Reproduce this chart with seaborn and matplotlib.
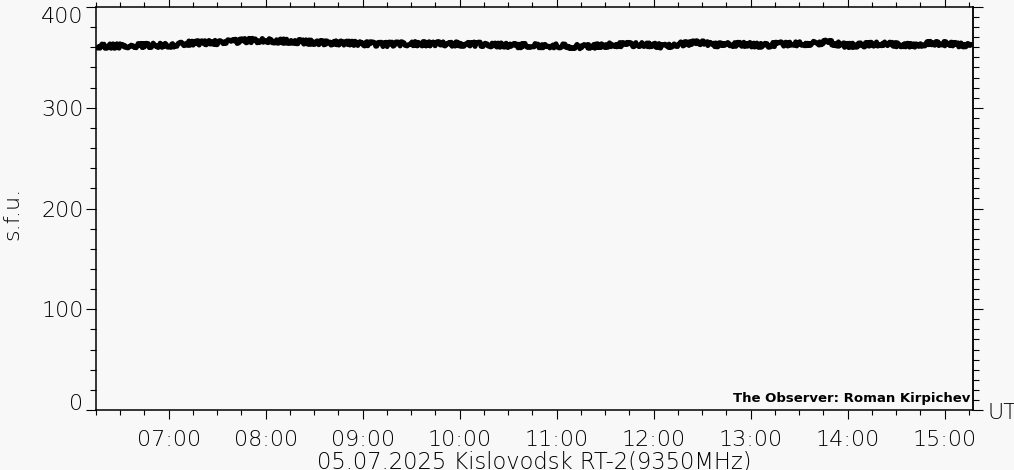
import matplotlib
matplotlib.use("Agg")
import matplotlib.pyplot as plt
from matplotlib.ticker import MultipleLocator, FixedLocator, NullFormatter
import seaborn as sns
import pandas as pd

# --- data (UT hours, flux in s.f.u.) ---
time_h = [6.25, 6.52, 6.87, 6.99, 7.21, 7.55, 7.83, 8.07, 8.25, 8.59, 8.94,
          9.21, 9.52, 9.87, 10.21, 10.55, 10.90, 11.31, 11.58, 11.93, 12.10,
          12.27, 12.48, 12.61, 12.96, 13.13, 13.30, 13.64, 13.79, 13.99,
          14.33, 14.67, 14.88, 15.23, 15.29]
flux_sfu = [361.0, 361.4, 362.0, 361.7, 364.2, 364.9, 366.8, 366.4, 366.0,
            364.5, 363.8, 362.8, 363.6, 363.3, 363.0, 361.7, 361.7, 360.5,
            362.6, 362.9, 361.0, 363.3, 364.6, 362.6, 362.9, 361.6, 363.3,
            363.8, 365.2, 361.7, 363.3, 362.1, 364.2, 362.1, 362.5]
x_tick_hours = [7, 8, 9, 10, 11, 12, 13, 14, 15]
x_tick_labels = ["07:00", "08:00", "09:00", "10:00", "11:00", "12:00",
                 "13:00", "14:00", "15:00"]
y_ticks = [0, 100, 200, 300, 400]
title_text = "05.07.2025 Kislovodsk RT-2(9350MHz)"
observer_text = "The Observer: Roman Kirpichev"

df = pd.DataFrame({"t": time_h, "flux": flux_sfu})

sns.set_theme(style="ticks")
plt.rcParams["font.family"] = ["DejaVu Sans"]
plt.rcParams["font.weight"] = "light"
bg = "#f8f8f8"

fig = plt.figure(figsize=(10.14, 4.70), dpi=100, facecolor=bg)
ax = fig.add_axes([96 / 1014, (470 - 410) / 470, (973 - 96) / 1014, (410 - 7) / 470])
ax.set_facecolor(bg)

sns.lineplot(data=df, x="t", y="flux", color="black", linewidth=3.6, ax=ax)
for ln in ax.get_lines():
    ln.set_sketch_params(scale=2.2, length=1.2, randomness=6)
    ln.set_solid_capstyle("butt")

ax.set_xlim(6.25, 15.293)
ax.set_ylim(0, 400)

for s in ax.spines.values():
    s.set_color("black")
    s.set_linewidth(1.1)

ax.xaxis.set_major_locator(FixedLocator(x_tick_hours))
ax.set_xticklabels(x_tick_labels)
ax.xaxis.set_minor_locator(MultipleLocator(0.25))
ax.yaxis.set_major_locator(FixedLocator(y_ticks))
ax.set_yticklabels([str(v) for v in y_ticks])
ax.yaxis.set_minor_locator(MultipleLocator(20))

ax.tick_params(axis="x", which="both", direction="out", top=True, bottom=True,
               color="black", width=0.8, labelsize=16, labelcolor="black")
ax.tick_params(axis="x", which="major", length=6.5, pad=8)
ax.tick_params(axis="x", which="minor", length=3.5)
ax.tick_params(axis="y", which="both", direction="out", left=True, right=False,
               color="black", width=0.8, labelsize=16, labelcolor="black")
ax.tick_params(axis="y", which="major", length=7, pad=2)
ax.tick_params(axis="y", which="minor", length=4.5)

labs = ax.get_yticklabels()
labs[0].set_verticalalignment("baseline")
labs[-1].set_verticalalignment("top")

sec = ax.secondary_yaxis("right")
sec.yaxis.set_major_locator(FixedLocator(y_ticks))
sec.yaxis.set_minor_locator(MultipleLocator(10))
sec.yaxis.set_major_formatter(NullFormatter())
sec.spines["right"].set_linewidth(1.1)
sec.tick_params(which="both", direction="out", color="black", width=0.8)
sec.tick_params(which="major", length=7)
sec.tick_params(which="minor", length=4.5)

ax.set_xlabel(title_text, fontsize=16.3, color="black", labelpad=0.5,
              fontweight="light")
ax.set_ylabel("s.f.u.", fontsize=16, color="black", fontweight="light")
ax.yaxis.set_label_coords(-0.0844, 0.489)

fig.text(988 / 1014, (470 - 413) / 470, "UT", fontsize=16, color="black",
         ha="left", va="center", fontweight="light")
ax.text(0.9975, 0.0275, observer_text, transform=ax.transAxes, fontsize=9.5,
        fontweight="bold", color="black", ha="right", va="center")

fig.savefig("out.png", dpi=100, facecolor=bg)
